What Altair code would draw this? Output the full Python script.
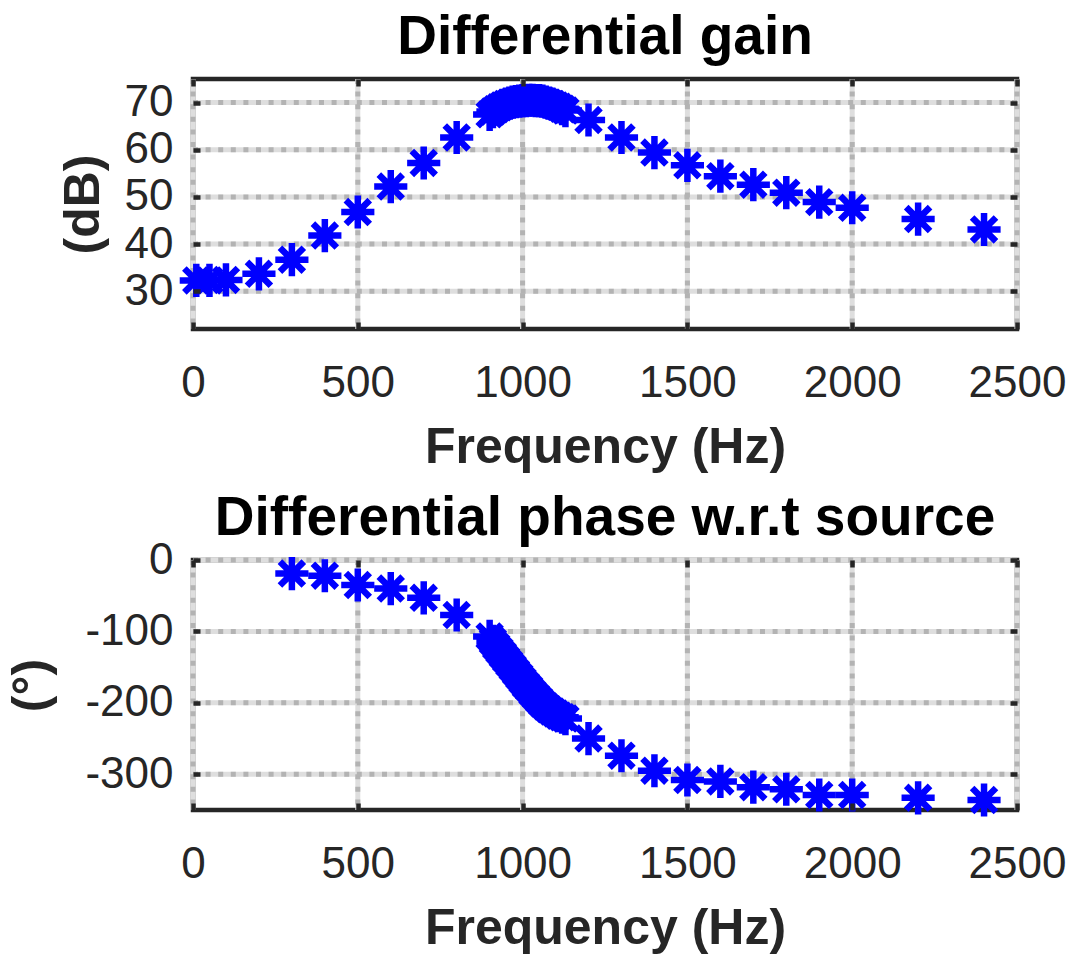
import altair as alt
import pandas as pd

# ---------------- data ----------------
gain_freq = [10, 50, 100, 200, 300, 400, 500, 600, 700, 800, 900,
             910, 920, 930, 940, 950, 960, 970, 980, 990, 1000, 1010, 1020,
             1030, 1040, 1050, 1060, 1070, 1080, 1090, 1100, 1110, 1120, 1130,
             1200, 1300, 1400, 1500, 1600, 1700, 1800, 1900, 2000, 2200, 2400]
gain_db = [32.3, 32.3, 32.4, 33.7, 36.7, 41.8, 46.8, 52.2, 57.2, 62.6, 67.5,
           68.1, 68.6, 69.0, 69.4, 69.7, 69.9, 70.1, 70.2, 70.3, 70.4, 70.4, 70.5,
           70.5, 70.4, 70.4, 70.3, 70.1, 69.9, 69.7, 69.4, 69.1, 68.7, 68.3,
           66.3, 62.6, 59.4, 56.7, 54.4, 52.6, 50.9, 48.9, 47.7, 45.3, 43.1]

phase_freq = [300, 400, 500, 600, 700, 800, 900,
              910, 920, 930, 940, 950, 960, 970, 980, 990, 1000, 1010, 1020,
              1030, 1040, 1050, 1060, 1070, 1080, 1090, 1100, 1110, 1120, 1130,
              1200, 1300, 1400, 1500, 1600, 1700, 1800, 1900, 2000, 2200, 2400]
phase_deg = [-19, -22, -35, -40, -53, -77, -107,
             -114, -121, -127, -133, -139, -145, -151, -157, -163, -169, -175, -180,
             -186, -191, -196, -201, -205, -209, -212, -215, -218, -220, -222,
             -250, -274, -295, -308, -310, -318, -321, -329, -329, -333, -336]

x_ticks = [0, 500, 1000, 1500, 2000, 2500]
gain_ticks = [30, 40, 50, 60, 70]
phase_ticks = [-300, -200, -100, 0]

x_domain = [0, 2500]
gain_domain = [22, 75]
phase_domain = [-350, 0]

# ---------------- styling ----------------
FONT = "Liberation Sans"
INK = "#262626"
STAR = "M0,-1L0,1M-1,0L1,0M-0.72,-0.72L0.72,0.72M-0.72,0.72L0.72,-0.72"
W, H = 824, 250


def panel(freqs, vals, yticks, ydomain, title, ytitle, ytitle_pad, title_offset):
    df = pd.DataFrame({"f": freqs, "v": vals})
    xt = pd.DataFrame({"t": x_ticks})
    yt = pd.DataFrame({"t": yticks})
    xs = alt.Scale(domain=x_domain, nice=False, zero=False)
    ys = alt.Scale(domain=ydomain, nice=False, zero=False)

    xg_light = alt.Chart(xt).mark_rule(color="#dedede", strokeWidth=5).encode(
        x=alt.X("t:Q", scale=xs, axis=None))
    yg_light = alt.Chart(yt).mark_rule(color="#dedede", strokeWidth=5).encode(
        y=alt.Y("t:Q", scale=ys, axis=None))
    xg_dash = alt.Chart(xt).mark_rule(color="#b3b3b3", strokeWidth=5,
                                      strokeDash=[5, 7.6]).encode(
        x=alt.X("t:Q", scale=xs,
                axis=alt.Axis(orient="top", values=x_ticks, labels=False, title=None,
                              domain=False, grid=False, ticks=True, tickSize=7,
                              tickWidth=4.5, tickColor=INK, offset=-7, zindex=1)))
    yg_dash = alt.Chart(yt).mark_rule(color="#b3b3b3", strokeWidth=5,
                                      strokeDash=[5, 7.6]).encode(
        y=alt.Y("t:Q", scale=ys,
                axis=alt.Axis(orient="right", values=yticks, labels=False, title=None,
                              domain=False, grid=False, ticks=True, tickSize=7,
                              tickWidth=4.5, tickColor=INK, offset=-7, zindex=1)))

    pts = alt.Chart(df).mark_point(
        shape=STAR, filled=False, stroke="#0000ff", strokeWidth=6.5,
        size=1100, opacity=1, strokeCap="butt"
    ).encode(
        x=alt.X("f:Q", scale=xs,
                axis=alt.Axis(orient="bottom", values=x_ticks, title="Frequency (Hz)",
                              domain=False, grid=False, tickSize=7, tickWidth=4.5,
                              tickColor=INK, offset=-7, zindex=1,
                              labelExpr="'' + datum.value",
                              labelFont=FONT, labelFontSize=44, labelColor=INK,
                              labelPadding=32, labelFlush=False,
                              titleFont=FONT, titleFontSize=50, titleFontWeight="bold",
                              titleColor=INK, titlePadding=17)),
        y=alt.Y("v:Q", scale=ys,
                axis=alt.Axis(orient="left", values=yticks, title=ytitle,
                              domain=False, grid=False, tickSize=7, tickWidth=4.5,
                              tickColor=INK, offset=-7, zindex=1,
                              labelExpr="'' + datum.value",
                              labelFont=FONT, labelFontSize=44, labelColor=INK,
                              labelPadding=20, labelFlush=False,
                              titleFont=FONT, titleFontSize=50, titleFontWeight="bold",
                              titleColor=INK, titlePadding=ytitle_pad)),
    )

    return alt.layer(xg_light, yg_light, xg_dash, yg_dash, pts).resolve_axis(
        x="independent", y="independent"
    ).properties(
        width=W, height=H,
        title=alt.TitleParams(title, font=FONT, fontSize=55, fontWeight="bold",
                              color="#000000", anchor="middle",
                              offset=title_offset),
    )


top = panel(gain_freq, gain_db, gain_ticks, gain_domain,
            "Differential gain", "(dB)", 16, 5)
bottom = panel(phase_freq, phase_deg, phase_ticks, phase_domain,
               "Differential phase w.r.t source", "(°)", 28, -9)

chart = alt.vconcat(top, bottom, spacing=13).properties(
    padding={"left": 4, "top": 7, "right": 5, "bottom": 2},
    background="white",
).configure_view(stroke=INK, strokeWidth=4.5)

chart.save("out.html", embed_options={"renderer": "svg", "actions": False})
